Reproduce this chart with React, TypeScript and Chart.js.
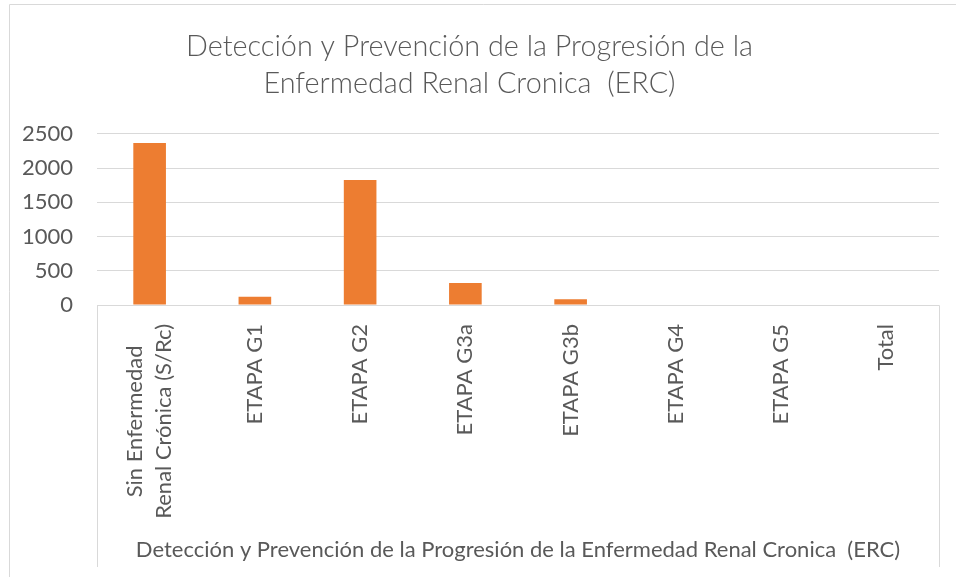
import React, { useEffect, useRef } from "react";
import { Chart, registerables } from "chart.js";

Chart.register(...registerables);

const categories: string[][] = [
  ["Sin Enfermedad", "Renal Crónica (S/Rc)"],
  ["ETAPA G1"],
  ["ETAPA G2"],
  ["ETAPA G3a"],
  ["ETAPA G3b"],
  ["ETAPA G4"],
  ["ETAPA G5"],
  ["Total"],
];
const values: number[] = [2365, 122, 1825, 320, 85, 0, 0, 0];
const titleLines: string[] = [
  "Detección y Prevención de la Progresión de la",
  "Enfermedad Renal Cronica  (ERC)",
];
const xAxisTitle = "Detección y Prevención de la Progresión de la Enfermedad Renal Cronica  (ERC)";

const TEXT = "#595959";
const GRID = "#D9D9D9";
const FONT = "Lato, 'Open Sans', sans-serif";

const decorPlugin = {
  id: "decor",
  afterDraw(chart: any) {
    const { ctx, chartArea } = chart;
    const xs = chart.scales.x;
    ctx.save();
    // outer frame
    ctx.strokeStyle = GRID;
    ctx.lineWidth = 1;
    ctx.beginPath();
    ctx.moveTo(9.5, 600);
    ctx.lineTo(9.5, 4.5);
    ctx.lineTo(1000, 4.5);
    ctx.stroke();
    // category box
    const l = Math.round(chartArea.left) + 0.5;
    const r = Math.round(chartArea.right) + 0.5;
    const b = Math.round(chartArea.bottom) + 0.5;
    ctx.beginPath();
    ctx.moveTo(l, 567);
    ctx.lineTo(l, b);
    ctx.lineTo(r, b);
    ctx.lineTo(r, 567);
    ctx.stroke();
    // category labels rotated
    ctx.fillStyle = TEXT;
    ctx.font = `22px ${FONT}`;
    ctx.textBaseline = "middle";
    const top = chartArea.bottom + 19;
    categories.forEach((lines, i) => {
      const x = xs.getPixelForValue(i);
      ctx.save();
      ctx.translate(x, top);
      ctx.rotate(-Math.PI / 2);
      if (lines.length === 1) {
        ctx.textAlign = "right";
        ctx.fillText(lines[0], 0, 0);
      } else {
        const maxW = Math.max(...lines.map((s) => ctx.measureText(s).width));
        ctx.textAlign = "center";
        const lh = 29;
        lines.forEach((s, j) => {
          ctx.fillText(s, -maxW / 2, (j - (lines.length - 1) / 2) * lh);
        });
      }
      ctx.restore();
    });
    // x axis title
    ctx.textAlign = "center";
    ctx.textBaseline = "middle";
    ctx.fillText(xAxisTitle, (chartArea.left + chartArea.right) / 2, 550);
    ctx.restore();
  },
};

export default function App() {
  const ref = useRef<HTMLCanvasElement>(null);
  useEffect(() => {
    if (!ref.current) return;
    const chart = new Chart(ref.current, {
      type: "bar",
      data: {
        labels: categories.map((c) => c.join(" ")),
        datasets: [
          {
            data: values,
            backgroundColor: "#ED7D31",
            borderWidth: 0,
            categoryPercentage: 1,
            barPercentage: 0.31,
          },
        ],
      },
      options: {
        animation: false,
        responsive: false,
        layout: { padding: { left: 0, right: 17, top: 0, bottom: 272 } },
        plugins: {
          legend: { display: false },
          tooltip: { enabled: false },
          title: {
            display: true,
            text: titleLines,
            color: TEXT,
            font: { family: FONT, size: 28.8, weight: "300", lineHeight: 1.3 },
            padding: { top: 28, bottom: 31 },
          },
        },
        scales: {
          x: {
            ticks: { display: false },
            grid: { display: false },
            border: { display: false },
            afterFit: (s: any) => {
              s.height = 0;
            },
          },
          y: {
            min: 0,
            max: 2500,
            ticks: {
              stepSize: 500,
              color: TEXT,
              padding: 24,
              font: { family: FONT, size: 22 },
              callback: (v: any) => String(v),
            },
            grid: { color: GRID, drawTicks: false, tickLength: 0 },
            border: { display: false },
            afterFit: (s: any) => {
              s.width = 97;
            },
          },
        },
      },
      plugins: [decorPlugin],
    });
    return () => chart.destroy();
  }, []);
  return (
    <div style={{ position: "fixed", left: 0, top: 0, width: 956, height: 577, background: "#fff" }}>
      <canvas ref={ref} width={956} height={577} />
    </div>
  );
}
